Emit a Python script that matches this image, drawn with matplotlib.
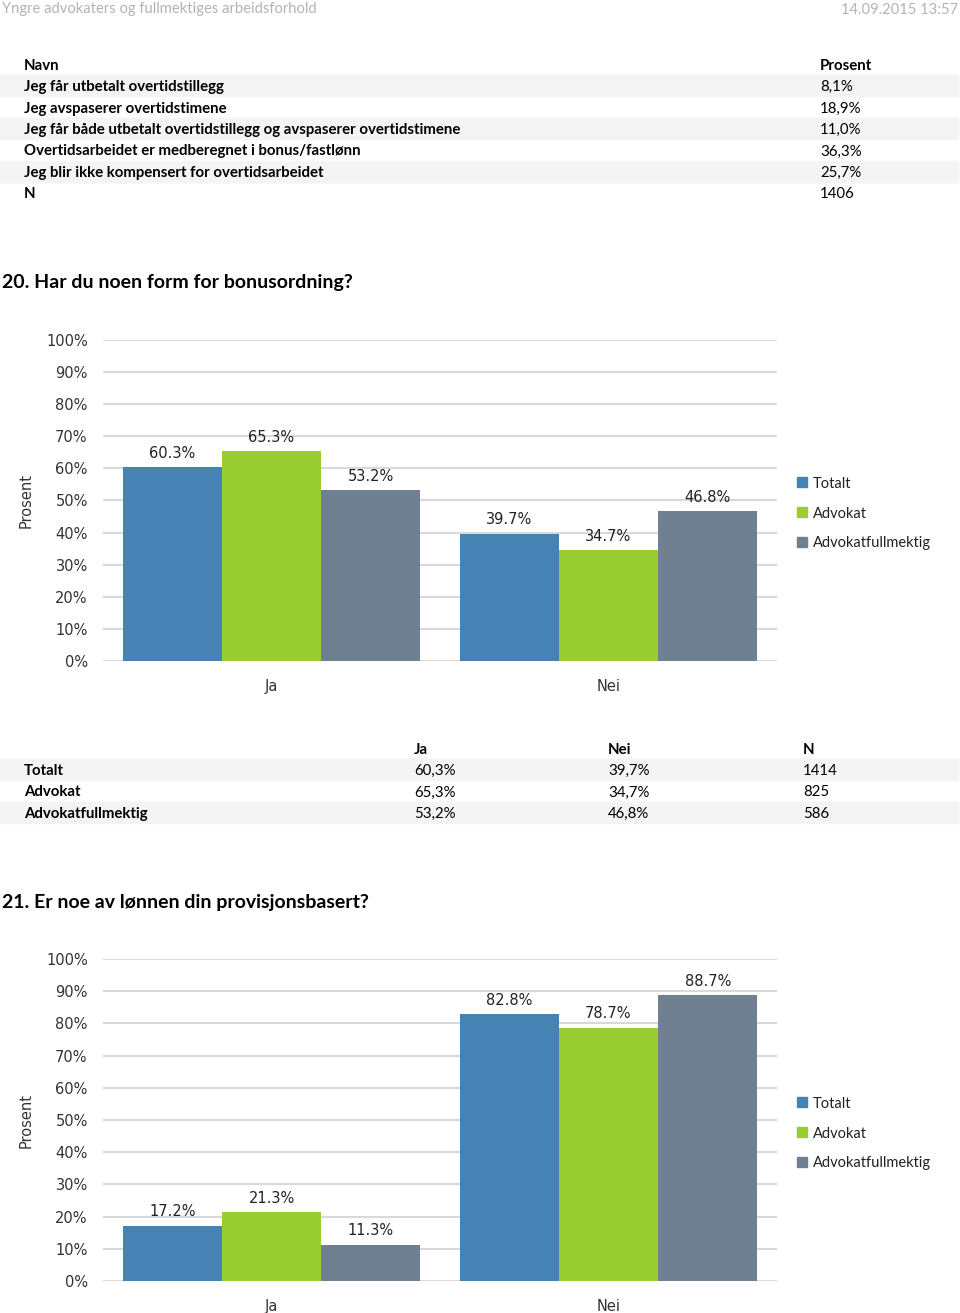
import matplotlib
matplotlib.use("Agg")
import matplotlib.pyplot as plt
from matplotlib.patches import Rectangle
import numpy as np

W, H = 960, 1313

header_left = "Yngre advokaters og fullmektiges arbeidsforhold"
header_right = "14.09.2015 13:57"

t1_cols = ["Navn", "Prosent"]
t1_names = ["Jeg får utbetalt overtidstillegg",
            "Jeg avspaserer overtidstimene",
            "Jeg får både utbetalt overtidstillegg og avspaserer overtidstimene",
            "Overtidsarbeidet er medberegnet i bonus/fastlønn",
            "Jeg blir ikke kompensert for overtidsarbeidet",
            "N"]
t1_values = ["8,1%", "18,9%", "11,0%", "36,3%", "25,7%", "1406"]

title20 = "20. Har du noen form for bonusordning?"
title21 = "21. Er noe av lønnen din provisjonsbasert?"

categories = ["Ja", "Nei"]
series = ["Totalt", "Advokat", "Advokatfullmektig"]
colors = ["#4682b4", "#9acd32", "#708090"]

q20_values = [[60.3, 39.7], [65.3, 34.7], [53.2, 46.8]]
q21_values = [[17.2, 82.8], [21.3, 78.7], [11.3, 88.7]]

t2_cols = ["Ja", "Nei", "N"]
t2_rows = ["Totalt", "Advokat", "Advokatfullmektig"]
t2_values = [["60,3%", "39,7%", "1414"],
             ["65,3%", "34,7%", "825"],
             ["53,2%", "46,8%", "586"]]

yticks = list(range(0, 101, 10))
ytick_labels = [f"{v}%" for v in yticks]

plt.rcParams["font.family"] = ["DejaVu Sans"]
fig = plt.figure(figsize=(W / 100, H / 100), dpi=100)
TF = ["Lato", "DejaVu Sans"]
CF = ["DejaVu Sans"]
FS = 10.8


def fx(x):
    return x / W


def fy(y):
    return 1 - y / H


def ftext(x, y, s, **kw):
    fig.text(fx(x), fy(y + 1.5), s, **kw)


def band(y0, y1, color="#f4f4f4"):
    fig.patches.append(Rectangle((fx(0), fy(y1)), fx(958), (y1 - y0) / H,
                                 transform=fig.transFigure, color=color, zorder=0))


def hline(y, color="#e6e6e6"):
    fig.lines.append(plt.Line2D([fx(0), fx(958)], [fy(y), fy(y)],
                                transform=fig.transFigure, color=color, lw=1, zorder=0))


# header
ftext(2, 8, header_left, fontsize=10.6, color="#b3b3b3", va="center", family=TF)
ftext(958, 8, header_right, fontsize=10.6, color="#b3b3b3", va="center", ha="right", family=TF)

# table 1
row_h = 21.5
y_head = 64
ftext(24, y_head, t1_cols[0], fontsize=FS, weight="bold", va="center", family=TF)
ftext(820, y_head, t1_cols[1], fontsize=FS, weight="bold", va="center", family=TF)
hline(74.5)
for i, (n, v) in enumerate(zip(t1_names, t1_values)):
    yc = y_head + row_h * (i + 1)
    if i % 2 == 0 and i < 5:
        band(yc - row_h / 2, yc + row_h / 2)
    ftext(24, yc, n, fontsize=FS, weight="bold", va="center", family=TF)
    ftext(820, yc, v, fontsize=FS, va="center", family=TF)
hline(182)

# titles
ftext(2, 281, title20, fontsize=14, weight="bold", va="center", family=TF)
ftext(2, 901, title21, fontsize=14, weight="bold", va="center", family=TF)

# table 2
y2 = 748
col_x = [414, 608, 803]
for c, x in zip(t2_cols, col_x):
    ftext(x, y2, c, fontsize=FS, weight="bold", va="center", family=TF)
hline(758.5)
for i, (r, vals) in enumerate(zip(t2_rows, t2_values)):
    yc = y2 + row_h * (i + 1)
    if i % 2 == 0:
        band(yc - row_h / 2, yc + row_h / 2)
    ftext(24, yc, r, fontsize=FS, weight="bold", va="center", family=TF)
    for v, x in zip(vals, col_x):
        ftext(x, yc, v, fontsize=FS, va="center", family=TF)


def bar_chart(top, bottom, values, legend_y):
    ax = fig.add_axes([fx(103), fy(bottom), (777 - 103) / W, (bottom - top) / H])
    ax.set_xlim(-0.5, 1.5)
    ax.set_ylim(0, 100)
    x = np.arange(len(categories))
    bw = 99.3 / 337
    for j, (s, c) in enumerate(zip(series, colors)):
        pos = x + (j - 1) * bw
        ax.bar(pos, values[j], width=bw, color=c, zorder=3, label=s)
        for p, v in zip(pos, values[j]):
            ax.text(p, v + 1.9, f"{v}%", ha="center", va="bottom", fontsize=10.5,
                    family=CF, color="#222222", zorder=4)
    ax.set_yticks(yticks)
    ax.set_yticklabels(ytick_labels, family=CF, fontsize=10.5, color="#333333")
    ax.set_xticks(x)
    ax.set_xticklabels(categories, family=CF, fontsize=10.5, color="#333333")
    ax.tick_params(axis="y", length=0, pad=11)
    ax.tick_params(axis="x", length=0, pad=13)
    ax.grid(axis="y", color="#d9d9d9", lw=1.5, zorder=0)
    ax.set_axisbelow(True)
    for sp in ax.spines.values():
        sp.set_visible(False)
    ax.set_ylabel("Prosent", family=CF, fontsize=10.5, color="#333333")
    ax.yaxis.set_label_coords(-(103 - 34) / 674, 0.5)
    # legend
    for k, (s, c) in enumerate(zip(series, colors)):
        yc = legend_y + 30 * k
        fig.patches.append(Rectangle((fx(797), fy(yc + 5)), 10 / W, 10 / H,
                                     transform=fig.transFigure, color=c))
        ftext(813, yc, s, fontsize=10.5, va="center", family=TF, color="#222222")
    return ax


bar_chart(340, 661, q20_values, 482)
bar_chart(959, 1281, q21_values, 1102)

fig.savefig("out.png", dpi=100)
